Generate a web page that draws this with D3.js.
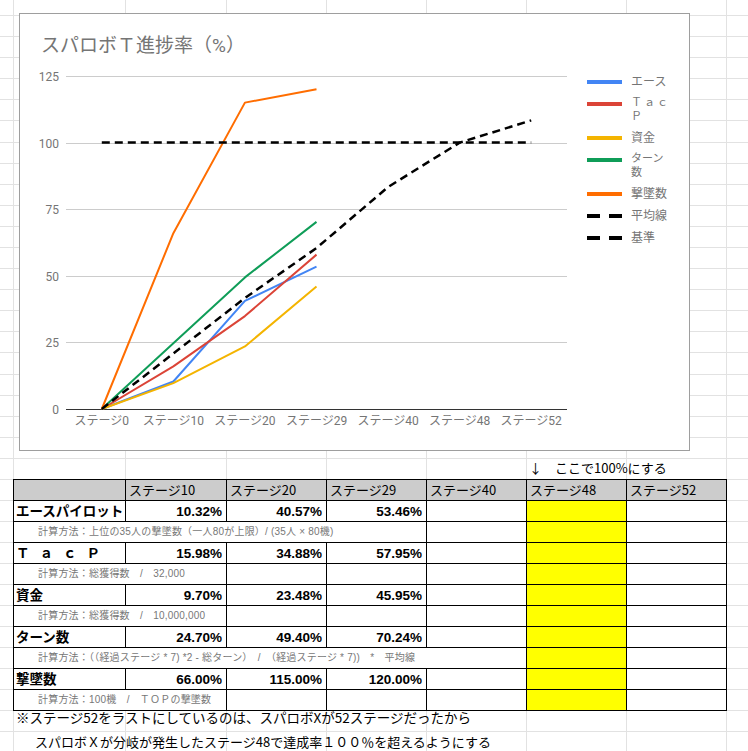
<!DOCTYPE html>
<html>
<head>
<meta charset="utf-8">
<script src="https://cdn.jsdelivr.net/npm/d3@7"></script>
<style>
    body { margin: 0; background: #fff; }
    svg { display: block; }
</style>
</head>
<body>
<div id="sheet"></div>
<script>
    "use strict";

    //Chart data
    var stages = ["ステージ0", "ステージ10", "ステージ20", "ステージ29", "ステージ40", "ステージ48", "ステージ52"];
    var aceValues = [0, 10.32, 40.57, 53.46];
    var tacpValues = [0, 15.98, 34.88, 57.95];
    var fundValues = [0, 9.70, 23.48, 45.95];
    var turnValues = [0, 24.70, 49.40, 70.24];
    var killValues = [0, 66.00, 115.00, 120.00];
    var avgValues = [0, 20.83, 41.67, 60.42, 83.33, 100, 108.33];
    var baseValues = [100, 100, 100, 100, 100, 100, 100];
    var yTicks = [0, 25, 50, 75, 100, 125];

    var seriesNames = ["エース", "ＴａｃＰ", "資金", "ターン数", "撃墜数", "平均線", "基準"];
    var legendLabels = [["エース"], ["Ｔａｃ", "Ｐ"], ["資金"], ["ターン", "数"], ["撃墜数"], ["平均線"], ["基準"]];
    var seriesColors = ["#4285f4", "#db4437", "#f4b400", "#0f9d58", "#ff6d00", "#000000", "#000000"];
    var seriesDashed = [false, false, false, false, false, true, true];

    //Table data
    var tableHeaders = ["ステージ10", "ステージ20", "ステージ29", "ステージ40", "ステージ48", "ステージ52"];
    var rowLabels = ["エースパイロット", "ＴａｃＰ", "資金", "ターン数", "撃墜数"];
    var notes = [
        "計算方法：上位の35人の撃墜数（一人80が上限）/ (35人 × 80機)",
        "計算方法：総獲得数　/　32,000",
        "計算方法：総獲得数　/　10,000,000",
        "計算方法：（（経過ステージ * 7) *2 - 総ターン）　/　（経過ステージ * 7))　*　平均線",
        "計算方法：100機　/　ＴＯＰの撃墜数"
    ];
    var noteSpan = [4, 2, 2, 5, 2];
    var targetNote = "↓　ここで100%にする";
    var footNotes = [
        "※ステージ52をラストにしているのは、スパロボXが52ステージだったから",
        "スパロボＸが分岐が発生したステージ48で達成率１００％を超えるようにする"
    ];

    var seriesValues = [aceValues, tacpValues, fundValues, turnValues, killValues, avgValues, baseValues];

    //Layout
    var W = 748, H = 751;
    var jp = "'Noto Sans CJK JP', sans-serif";
    var chartFont = "Roboto, 'Noto Sans CJK JP', sans-serif";
    var cellFont = "'Liberation Sans', 'Noto Sans CJK JP', sans-serif";
    var colX = [13, 125, 226, 326, 426, 526, 626, 726];
    var tableTop = 479, rowH = 21;

    var svg = d3.select("#sheet").append("svg")
        .attr("width", W)
        .attr("height", H);

    //Spreadsheet gridlines
    var grid = svg.append("g").attr("stroke", "#e2e2e2").attr("stroke-width", 1);
    var gy = [];
    for (var y = tableTop; y > 0; y -= 21.09) { gy.push(Math.round(y)); }
    for (var k = 1; tableTop + k * rowH < H; k++) { gy.push(tableTop + k * rowH); }
    gy.forEach(function (y) {
        grid.append("line").attr("x1", 0).attr("x2", W).attr("y1", y + 0.5).attr("y2", y + 0.5);
    });
    colX.forEach(function (x) {
        grid.append("line").attr("x1", x + 0.5).attr("x2", x + 0.5).attr("y1", 0).attr("y2", H);
    });

    //Chart box
    var box = { x: 19, y: 13, w: 670, h: 437 };
    svg.append("rect")
        .attr("x", box.x + 0.5).attr("y", box.y + 0.5)
        .attr("width", box.w).attr("height", box.h)
        .attr("fill", "#fff")
        .attr("stroke", "#9e9e9e");

    svg.append("text")
        .attr("x", 41).attr("y", 52)
        .attr("font-family", chartFont)
        .attr("font-size", 19)
        .attr("fill", "#757575")
        .text("スパロボＴ進捗率（%）");

    var x = d3.scalePoint().domain(stages).range([66, 567]).padding(0.5);
    var yScale = d3.scaleLinear().domain([0, 125]).range([409, 76]);

    //Y gridlines and labels
    var yAxis = svg.append("g").attr("font-family", chartFont).attr("font-size", 12);
    yTicks.forEach(function (t) {
        var py = Math.round(yScale(t)) + 0.5;
        yAxis.append("line")
            .attr("x1", 66).attr("x2", 567)
            .attr("y1", py).attr("y2", py)
            .attr("stroke", t === 0 ? "#333" : "#cccccc");
        yAxis.append("text")
            .attr("x", 59).attr("y", py + 4)
            .attr("text-anchor", "end")
            .attr("fill", "#757575")
            .text(t);
    });

    //X labels
    svg.append("g").selectAll("text")
        .data(stages)
        .join("text")
        .attr("x", function (d) { return x(d); })
        .attr("y", 425)
        .attr("text-anchor", "middle")
        .attr("font-family", chartFont)
        .attr("font-size", 12)
        .attr("fill", "#757575")
        .text(function (d) { return d; });

    //Series lines
    var line = d3.line()
        .x(function (d, i) { return x(stages[i]); })
        .y(function (d) { return yScale(d); });

    seriesValues.forEach(function (vals, s) {
        svg.append("path")
            .datum(vals)
            .attr("d", line)
            .attr("fill", "none")
            .attr("stroke", seriesColors[s])
            .attr("stroke-width", seriesDashed[s] ? 2.5 : 2)
            .attr("stroke-dasharray", seriesDashed[s] ? "8,5" : null)
            .attr("stroke-linejoin", "round");
    });

    //Legend (two-line labels wrap like the sheet does)
    var legend = svg.append("g").attr("font-family", chartFont).attr("font-size", 12).attr("fill", "#757575");
    var ly = 82;
    legendLabels.forEach(function (lines, s) {
        legend.append("line")
            .attr("x1", 587).attr("x2", 622)
            .attr("y1", ly).attr("y2", ly)
            .attr("stroke", seriesColors[s])
            .attr("stroke-width", 4)
            .attr("stroke-dasharray", seriesDashed[s] ? "13,9" : null);
        var wrapped = lines.length > 1;
        lines.forEach(function (t, j) {
            legend.append("text")
                .attr("x", 631).attr("y", wrapped ? ly + 2 + j * 14 : ly + 4)
                .attr("font-size", wrapped ? 11 : 12)
                .attr("letter-spacing", t === "Ｔａｃ" ? 2 : 0)
                .text(t);
        });
        ly += 22 + 12 * (lines.length - 1);
    });

    //Table
    var table = svg.append("g");
    var fmt = d3.format(".2f");

    svg.append("text")
        .attr("x", 529).attr("y", 473)
        .attr("font-family", jp).attr("font-size", 13)
        .attr("fill", "#000")
        .text(targetNote);

    function cell(x0, x1, y0, fill) {
        table.append("rect")
            .attr("x", x0 + 0.5).attr("y", y0 + 0.5)
            .attr("width", x1 - x0).attr("height", rowH)
            .attr("fill", fill)
            .attr("stroke", "#000")
            .attr("stroke-width", 1);
    }

    //Header row
    colX.slice(0, -1).forEach(function (cx, c) {
        cell(cx, colX[c + 1], tableTop, "#cccccc");
        if (c > 0) {
            table.append("text")
                .attr("x", cx + 4).attr("y", tableTop + 16)
                .attr("font-family", jp).attr("font-size", 13)
                .text(tableHeaders[c - 1]);
        }
    });

    rowLabels.forEach(function (label, r) {
        var ry = tableTop + rowH * (1 + 2 * r);
        var vals = seriesValues[r].slice(1);
        colX.slice(0, -1).forEach(function (cx, c) {
            cell(cx, colX[c + 1], ry, c === 5 ? "#ffff00" : "#fff");
        });
        table.append("text")
            .attr("x", 16).attr("y", ry + 16)
            .attr("font-family", jp).attr("font-size", 13.5)
            .attr("font-weight", "bold")
            .attr("letter-spacing", label === "ＴａｃＰ" ? 10 : 0)
            .text(label);
        vals.forEach(function (v, c) {
            table.append("text")
                .attr("x", colX[c + 2] - 4).attr("y", ry + 16)
                .attr("text-anchor", "end")
                .attr("font-family", cellFont).attr("font-size", 13.5)
                .attr("font-weight", "bold")
                .text(fmt(v) + "%");
        });

        //Note row, first cells merged
        var ny = ry + rowH;
        cell(colX[0], colX[noteSpan[r]], ny, "#fff");
        for (var c = noteSpan[r]; c < 7; c++) {
            cell(colX[c], colX[c + 1], ny, c === 5 ? "#ffff00" : "#fff");
        }
        table.append("text")
            .attr("x", 38).attr("y", ny + 14)
            .attr("font-family", cellFont).attr("font-size", 10)
            .attr("letter-spacing", 0.2)
            .attr("fill", "#777")
            .text(notes[r]);
    });

    //Foot notes
    svg.append("text")
        .attr("x", 16).attr("y", 723)
        .attr("font-family", jp).attr("font-size", 13.5)
        .text(footNotes[0]);
    svg.append("text")
        .attr("x", 35).attr("y", 747)
        .attr("font-family", jp).attr("font-size", 13)
        .text(footNotes[1]);
</script>
</body>
</html>
